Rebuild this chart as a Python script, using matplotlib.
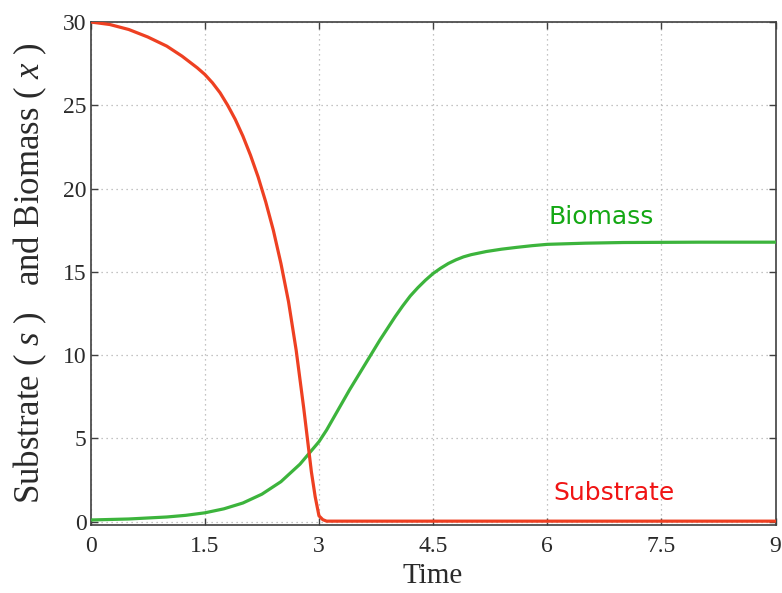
import matplotlib
matplotlib.use("Agg")
import matplotlib.pyplot as plt

# ── Données ──────────────────────────────────────────────────────────────────

t_sub = [0.0, 0.25, 0.5, 0.75, 1.0, 1.2, 1.4, 1.5, 1.6, 1.7, 1.8, 1.9,
         2.0, 2.1, 2.2, 2.3, 2.4, 2.5, 2.6, 2.7, 2.8, 2.9, 2.95, 3.0,
         3.05, 3.1, 9.0]
substrate = [30.0, 29.85, 29.55, 29.1, 28.55, 27.95, 27.25, 26.85, 26.35, 25.75, 25.0, 24.15,
             23.15, 22.0, 20.7, 19.2, 17.5, 15.5, 13.2, 10.3, 6.8, 3.0, 1.5, 0.35,
             0.12, 0.03, 0.03]

t_bio = [0.0, 0.5, 1.0, 1.25, 1.5, 1.75, 2.0, 2.25, 2.5, 2.75, 3.0, 3.1,
         3.2, 3.3, 3.4, 3.5, 3.6, 3.7, 3.8, 3.9, 4.0, 4.1, 4.2, 4.3,
         4.4, 4.5, 4.6, 4.7, 4.8, 4.9, 5.0, 5.2, 5.4, 5.6, 5.8, 6.0,
         6.5, 7.0, 8.0, 9.0]
biomass = [0.1, 0.16, 0.28, 0.38, 0.53, 0.77, 1.12, 1.65, 2.4, 3.45, 4.8, 5.5,
           6.3, 7.1, 7.9, 8.65, 9.4, 10.15, 10.9, 11.6, 12.3, 12.95, 13.55, 14.05,
           14.5, 14.9, 15.22, 15.5, 15.72, 15.9, 16.03, 16.22, 16.36, 16.47, 16.57, 16.65,
           16.72, 16.76, 16.78, 16.78]

x_ticks = [0, 1.5, 3, 4.5, 6, 7.5, 9]
x_tick_labels = ["0", "1.5", "3", "4.5", "6", "7.5", "9"]
y_ticks = [0, 5, 10, 15, 20, 25, 30]

# ── Style ────────────────────────────────────────────────────────────────────

RED_LINE = "#ee4022"
GREEN_LINE = "#3cb43c"
RED_TXT = "#f01414"
GREEN_TXT = "#14a814"
SERIF = "Liberation Serif"

plt.rcParams.update({
    "font.family": SERIF,
    "mathtext.fontset": "custom",
    "mathtext.rm": SERIF,
    "mathtext.it": SERIF + ":italic",
    "xtick.direction": "in",
    "ytick.direction": "in",
    "xtick.top": True,
    "ytick.right": True,
    "axes.edgecolor": "#404040",
})

fig = plt.figure(figsize=(7.82, 5.93), dpi=100)
ax = fig.add_axes([0.116, 0.1147, 0.8757, 0.8482])

ax.plot(t_bio, biomass, color=GREEN_LINE, lw=2.3, zorder=3)
ax.plot(t_sub, substrate, color=RED_LINE, lw=2.3, zorder=4)

ax.text(6.01, 17.9, "Biomass", color=GREEN_TXT, fontsize=18,
        family="DejaVu Sans", ha="left", va="baseline")
ax.text(6.08, 1.3, "Substrate", color=RED_TXT, fontsize=18,
        family="DejaVu Sans", ha="left", va="baseline")

ax.set_xlim(0, 9)
ax.set_ylim(-0.2, 30)
ax.set_xticks(x_ticks)
ax.set_xticklabels(x_tick_labels)
ax.set_yticks(y_ticks)
ax.tick_params(labelsize=17, length=5, width=1, colors="#404040",
               labelcolor="#2a2a2a")
ax.tick_params(axis="x", pad=8)
ax.tick_params(axis="y", pad=3)
for sp in ax.spines.values():
    sp.set_linewidth(1.2)

ax.grid(True, color="#b0b0b0", lw=0.9, linestyle=(0, (1, 3)))

ax.set_xlabel("Time", fontsize=21, color="#2a2a2a", labelpad=4)
ax.set_ylabel("Substrate ( $s$ )   and Biomass ( $x$ )", fontsize=25,
              color="#2a2a2a", labelpad=10)

fig.savefig("out.png", dpi=100, facecolor="white")
